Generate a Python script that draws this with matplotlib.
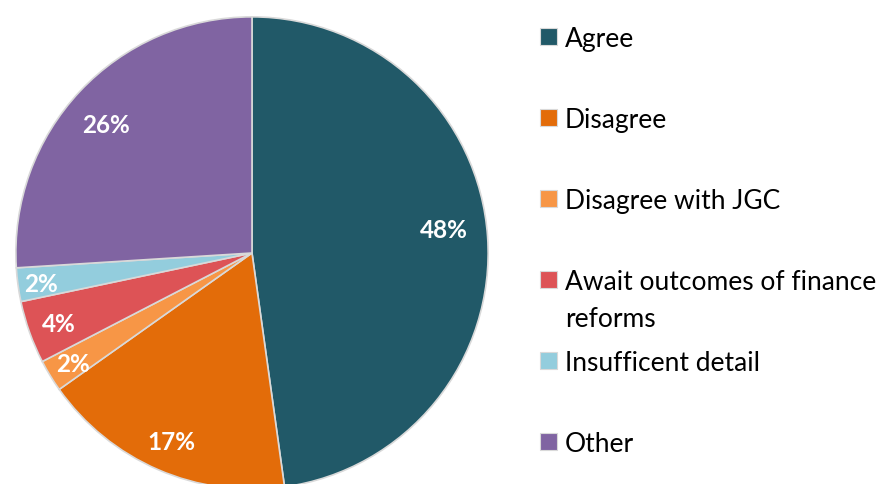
import numpy as np
import matplotlib
matplotlib.use("Agg")
import matplotlib.pyplot as plt
from matplotlib.patches import Rectangle

plt.rcParams['font.family'] = ['Lato', 'DejaVu Sans']

categories = ["Agree", "Disagree", "Disagree with JGC",
              "Await outcomes of finance\nreforms", "Insufficent detail", "Other"]
shares = [47.8, 17.4, 2.2, 4.3, 2.3, 26.0]
colors = ["#215968", "#E36C09", "#F79646", "#DD5356", "#93CDDD", "#8064A2"]
label_radius = [0.82, 0.86, 0.885, 0.87, 0.90, 0.83]
label_turn = [-3.5, 0.0, 0.0, 0.0, 0.0, -1.5]   # degrees, clockwise

W, H, DPI = 885, 485, 100
fig = plt.figure(figsize=(W / DPI, H / DPI), dpi=DPI)

# pie axes placed in pixel units: centre (252, 254), radius ~238
cx, cy, r = 252, 254, 238.5
ax = fig.add_axes([(cx - r) / W, (H - cy - r) / H, 2 * r / W, 2 * r / H])

wedges, _, autotexts = ax.pie(
    shares, colors=colors, startangle=90, counterclock=False,
    autopct="%.0f%%", pctdistance=0.84,
    wedgeprops=dict(edgecolor="#D9D9D9", linewidth=1.2),
    textprops=dict(color="white", fontsize=17.5, fontweight="bold"),
)

# place each percentage label along its wedge's bisector
for w, t, rr, turn in zip(wedges, autotexts, label_radius, label_turn):
    mid = np.deg2rad((w.theta1 + w.theta2) / 2 - turn)
    t.set_position((rr * np.cos(mid), rr * np.sin(mid)))
    t.set_verticalalignment("center_baseline")

ax.set_xlim(-1.01, 1.01)
ax.set_ylim(-1.01, 1.01)
ax.set_aspect("equal")
ax.axis("off")

# legend on the right, one entry per category; wrapped lines hang below
sq = 17
x_sq, x_txt = 540, 565
y0, step, line_gap = 37, 81, 37
for i, (lab, col) in enumerate(zip(categories, colors)):
    y = y0 + i * step
    fig.patches.append(Rectangle((x_sq / W, (H - y - sq / 2) / H), sq / W, sq / H,
                                 transform=fig.transFigure, facecolor=col,
                                 edgecolor="#D9D9D9", linewidth=0.8))
    for k, line in enumerate(lab.split("\n")):
        fig.text(x_txt / W, (H - y - k * line_gap) / H, line, fontsize=19,
                 color="#000000", ha="left", va="center_baseline")

fig.savefig("out.png", dpi=DPI)
